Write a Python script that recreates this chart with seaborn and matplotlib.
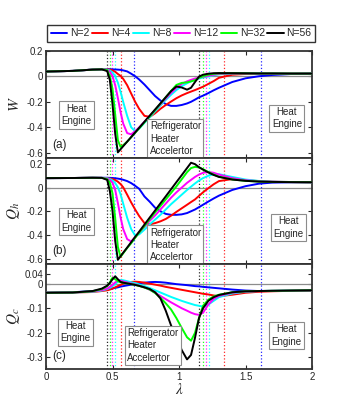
import pandas as pd
import matplotlib
matplotlib.use("Agg")
import matplotlib.pyplot as plt
import seaborn as sns

# lambda grid (shared by all curves)
lam = [0, 0.2, 0.35, 0.42,
       0.46, 0.48, 0.50, 0.52, 0.54,
       0.56, 0.58, 0.61, 0.64, 0.67,
       0.70, 0.74, 0.78, 0.82, 0.86,
       0.90, 0.94, 0.98, 1.02, 1.06,
       1.09, 1.12, 1.15, 1.18, 1.22,
       1.26, 1.30, 1.40, 1.50, 1.60,
       1.70, 1.85, 2.0]

n_labels = ['N=2', 'N=4', 'N=8', 'N=12', 'N=32', 'N=56']
colors = ['#0000ff', '#ff0000', '#00ffff', '#ff00ff', '#00ff00', '#000000']

# W
w_n2 = [0.037, 0.042, 0.052, 0.054,
        0.055, 0.055, 0.054, 0.053, 0.052,
        0.050, 0.046, 0.038, 0.020, 0.000,
        -0.025, -0.065, -0.110, -0.155, -0.190,
        -0.218, -0.232, -0.232, -0.225, -0.213,
        -0.200, -0.183, -0.165, -0.152, -0.132,
        -0.110, -0.090, -0.045, -0.016, 0.000,
        0.010, 0.018, 0.021]
w_n4 = [0.037, 0.042, 0.052, 0.054,
        0.054, 0.052, 0.046, 0.035, 0.018,
        0.003, -0.020, -0.070, -0.135, -0.200,
        -0.255, -0.310, -0.318, -0.290, -0.255,
        -0.225, -0.198, -0.172, -0.150, -0.132,
        -0.120, -0.108, -0.095, -0.082, -0.060,
        -0.038, -0.012, 0.012, 0.018, 0.020,
        0.021, 0.021, 0.021]
w_n8 = [0.037, 0.042, 0.052, 0.054,
        0.052, 0.045, 0.030, 0.000, -0.050,
        -0.120, -0.200, -0.310, -0.400, -0.430,
        -0.410, -0.365, -0.320, -0.275, -0.230,
        -0.185, -0.145, -0.108, -0.078, -0.055,
        -0.040, -0.028, -0.018, -0.010, -0.002,
        0.008, 0.015, 0.022, 0.023, 0.022,
        0.022, 0.021, 0.021]
w_n12 = [0.037, 0.042, 0.052, 0.054,
         0.050, 0.035, 0.000, -0.070, -0.170,
         -0.280, -0.370, -0.445, -0.455, -0.430,
         -0.400, -0.355, -0.310, -0.265, -0.220,
         -0.175, -0.130, -0.090, -0.060, -0.040,
         -0.028, -0.018, -0.010, -0.004, 0.003,
         0.012, 0.018, 0.023, 0.023, 0.022,
         0.022, 0.021, 0.021]
w_n32 = [0.037, 0.042, 0.052, 0.054,
         0.048, 0.000, -0.100, -0.300, -0.500,
         -0.553, -0.540, -0.512, -0.478, -0.443,
         -0.408, -0.360, -0.313, -0.265, -0.215,
         -0.165, -0.115, -0.068, -0.052, -0.048,
         -0.040, -0.030, -0.012, 0.000, 0.012,
         0.019, 0.022, 0.024, 0.023, 0.022,
         0.022, 0.021, 0.021]
w_n56 = [0.037, 0.042, 0.052, 0.054,
         0.040, -0.030, -0.220, -0.450, -0.596,
         -0.572, -0.548, -0.512, -0.476, -0.440,
         -0.404, -0.356, -0.308, -0.260, -0.212,
         -0.164, -0.116, -0.080, -0.088, -0.105,
         -0.090, -0.045, -0.003, 0.012, 0.020,
         0.024, 0.025, 0.024, 0.023, 0.022,
         0.022, 0.021, 0.021]

# Qh
qh_n2 = [0.080, 0.081, 0.083, 0.083,
         0.083, 0.082, 0.081, 0.079, 0.076,
         0.072, 0.066, 0.055, 0.038, 0.015,
         -0.010, -0.075, -0.120, -0.170, -0.200,
         -0.222, -0.230, -0.230, -0.226, -0.215,
         -0.200, -0.185, -0.165, -0.145, -0.118,
         -0.092, -0.068, -0.020, 0.012, 0.033,
         0.042, 0.045, 0.045]
qh_n4 = [0.080, 0.081, 0.083, 0.082,
         0.079, 0.076, 0.072, 0.064, 0.050,
         0.030, 0.003, -0.060, -0.125, -0.185,
         -0.240, -0.300, -0.310, -0.300, -0.285,
         -0.265, -0.237, -0.205, -0.175, -0.145,
         -0.122, -0.100, -0.070, -0.040, -0.005,
         0.028, 0.055, 0.072, 0.063, 0.055,
         0.050, 0.047, 0.045]
qh_n8 = [0.080, 0.081, 0.083, 0.082,
         0.078, 0.073, 0.060, 0.038, 0.003,
         -0.055, -0.135, -0.255, -0.350, -0.405,
         -0.395, -0.355, -0.310, -0.270, -0.230,
         -0.185, -0.140, -0.100, -0.060, -0.020,
         0.008, 0.035, 0.060, 0.080, 0.100,
         0.112, 0.113, 0.090, 0.068, 0.056,
         0.050, 0.047, 0.045]
qh_n12 = [0.080, 0.081, 0.083, 0.082,
          0.076, 0.065, 0.040, -0.020, -0.130,
          -0.250, -0.350, -0.435, -0.455, -0.420,
          -0.380, -0.330, -0.280, -0.235, -0.185,
          -0.135, -0.085, -0.040, 0.000, 0.040,
          0.065, 0.090, 0.110, 0.125, 0.132,
          0.125, 0.110, 0.080, 0.062, 0.053,
          0.049, 0.046, 0.045]
qh_n32 = [0.080, 0.081, 0.083, 0.082,
          0.072, 0.040, -0.050, -0.260, -0.500,
          -0.585, -0.555, -0.510, -0.470, -0.425,
          -0.380, -0.325, -0.265, -0.210, -0.155,
          -0.100, -0.045, 0.010, 0.070, 0.130,
          0.165, 0.175, 0.170, 0.155, 0.132,
          0.110, 0.092, 0.069, 0.057, 0.051,
          0.048, 0.046, 0.045]
qh_n56 = [0.080, 0.081, 0.083, 0.082,
          0.065, -0.030, -0.200, -0.450, -0.610,
          -0.580, -0.550, -0.506, -0.461, -0.416,
          -0.372, -0.312, -0.252, -0.193, -0.133,
          -0.074, -0.014, 0.046, 0.105, 0.165,
          0.210, 0.198, 0.172, 0.152, 0.128,
          0.107, 0.090, 0.068, 0.057, 0.051,
          0.048, 0.046, 0.045]

# Qc
qc_n2 = [-0.037, -0.035, -0.030, -0.026,
         -0.023, -0.021, -0.019, -0.017, -0.015,
         -0.012, -0.010, -0.007, -0.004, -0.001,
         0.002, 0.004, 0.006, 0.007, 0.006,
         0.004, 0.001, -0.002, -0.004, -0.006,
         -0.008, -0.010, -0.011, -0.013, -0.015,
         -0.017, -0.019, -0.024, -0.028, -0.030,
         -0.030, -0.029, -0.028]
qc_n4 = [-0.037, -0.036, -0.034, -0.030,
         -0.027, -0.024, -0.020, -0.015, -0.010,
         -0.005, 0.000, 0.004, 0.007, 0.008,
         0.007, 0.004, 0.000, -0.004, -0.008,
         -0.013, -0.017, -0.021, -0.025, -0.029,
         -0.032, -0.035, -0.038, -0.041, -0.044,
         -0.048, -0.051, -0.045, -0.037, -0.033,
         -0.031, -0.029, -0.028]
qc_n8 = [-0.037, -0.036, -0.033, -0.028,
         -0.022, -0.017, -0.010, -0.002, 0.008,
         0.015, 0.014, 0.010, 0.006, 0.002,
         -0.003, -0.010, -0.018, -0.027, -0.036,
         -0.045, -0.054, -0.062, -0.070, -0.077,
         -0.082, -0.087, -0.090, -0.093, -0.085,
         -0.070, -0.055, -0.040, -0.033, -0.030,
         -0.029, -0.028, -0.027]
qc_n12 = [-0.037, -0.036, -0.032, -0.026,
          -0.020, -0.013, -0.005, 0.005, 0.013,
          0.012, 0.009, 0.005, 0.001, -0.003,
          -0.008, -0.015, -0.025, -0.037, -0.050,
          -0.063, -0.076, -0.088, -0.100, -0.110,
          -0.118, -0.124, -0.127, -0.118, -0.085,
          -0.062, -0.050, -0.037, -0.032, -0.030,
          -0.029, -0.028, -0.027]
qc_n32 = [-0.037, -0.036, -0.031, -0.022,
          -0.010, 0.005, 0.024, 0.018, 0.010,
          0.006, 0.004, 0.001, -0.002, -0.005,
          -0.009, -0.016, -0.024, -0.038, -0.057,
          -0.080, -0.105, -0.140, -0.180, -0.218,
          -0.232, -0.200, -0.140, -0.090, -0.065,
          -0.052, -0.045, -0.035, -0.031, -0.030,
          -0.029, -0.028, -0.027]
qc_n56 = [-0.037, -0.036, -0.030, -0.020,
          -0.008, 0.003, 0.018, 0.030, 0.018,
          0.007, 0.004, 0.001, -0.002, -0.005,
          -0.009, -0.015, -0.022, -0.035, -0.060,
          -0.110, -0.170, -0.215, -0.270, -0.308,
          -0.290, -0.220, -0.140, -0.100, -0.070,
          -0.055, -0.046, -0.035, -0.031, -0.030,
          -0.029, -0.028, -0.027]

# vertical dotted markers (where W changes sign), one pair per N
cross_left = [0.662, 0.565, 0.518, 0.497, 0.481, 0.462]
cross_right = [1.615, 1.335, 1.228, 1.205, 1.178, 1.152]


def long_table(series):
    frames = []
    for lab, vals in zip(n_labels, series):
        frames.append(pd.DataFrame({'lam': lam, 'val': vals, 'N': lab}))
    return pd.concat(frames, ignore_index=True)


panels = [
    dict(df=long_table([w_n2, w_n4, w_n8, w_n12, w_n32, w_n56]), ylabel='$W$',
         ylim=(-0.64, 0.2), yticks=[-0.6, -0.4, -0.2, 0, 0.2], tag='(a)',
         pos=[0.133, 0.6156, 0.769, 0.2610],
         boxes=[(0.115, 0.40), (0.39, 0.18), (0.905, 0.37)]),
    dict(df=long_table([qh_n2, qh_n4, qh_n8, qh_n12, qh_n32, qh_n56]), ylabel='$Q_h$',
         ylim=(-0.645, 0.25), yticks=[-0.6, -0.4, -0.2, 0, 0.2], tag='(b)',
         pos=[0.133, 0.3577, 0.769, 0.2579],
         boxes=[(0.113, 0.40), (0.39, 0.18), (0.91, 0.345)]),
    dict(df=long_table([qc_n2, qc_n4, qc_n8, qc_n12, qc_n32, qc_n56]), ylabel='$Q_c$',
         ylim=(-0.347, 0.08), yticks=[-0.3, -0.2, -0.1, 0, 0.04], tag='(c)',
         pos=[0.133, 0.1022, 0.769, 0.2555],
         boxes=[(0.111, 0.35), (0.305, 0.225), (0.904, 0.32)]),
]

sns.set_style('ticks')
plt.rcParams['font.family'] = ['Liberation Sans', 'DejaVu Sans']
plt.rcParams['mathtext.fontset'] = 'stix'
plt.rcParams['axes.unicode_minus'] = False

fig = plt.figure(figsize=(3.46, 4.11), dpi=100)

box_style = dict(boxstyle='square,pad=0.25', fc='white', ec='0.55', lw=0.8)
handles, labels = None, None

for i, p in enumerate(panels):
    ax = fig.add_axes(p['pos'])
    ax.axhline(0, color='0.55', lw=0.9, zorder=1)
    for c, xl, xr in zip(colors, cross_left, cross_right):
        ax.axvline(xl, color=c, ls=':', lw=0.9, alpha=0.85, zorder=1)
        ax.axvline(xr, color=c, ls=':', lw=0.9, alpha=0.85, zorder=1)
    sns.lineplot(data=p['df'], x='lam', y='val', hue='N', hue_order=n_labels,
                 palette=colors, lw=1.4, ax=ax, legend=(i == 0), zorder=3)
    if i == 0:
        handles, labels = ax.get_legend_handles_labels()
        ax.get_legend().remove()

    ax.set_xlim(0, 2)
    ax.set_ylim(*p['ylim'])
    ax.set_xticks([0, 0.5, 1, 1.5, 2])
    ax.set_yticks(p['yticks'])
    ax.set_yticklabels(['%g' % t for t in p['yticks']])
    if i < 2:
        ax.set_xticklabels([])
        ax.set_xlabel('')
    else:
        ax.set_xticklabels(['0', '0.5', '1', '1.5', '2'])
        ax.set_xlabel(r'$\lambda$', fontsize=11)
        ax.xaxis.set_label_coords(0.5, -0.12)
    ax.set_ylabel(p['ylabel'], fontsize=11)
    ax.yaxis.set_label_coords(-0.09, 0.5)
    ax.tick_params(direction='in', top=True, right=True, length=3, width=0.8,
                   labelsize=7, pad=2, colors='0.15')
    for s in ax.spines.values():
        s.set_linewidth(1.3)
        s.set_color('0.2')

    (lx, ly), (mx, my), (rx, ry) = p['boxes']
    ax.text(lx, ly, 'Heat\nEngine', transform=ax.transAxes, fontsize=7,
            ha='center', va='center', linespacing=1.3, bbox=box_style, zorder=5)
    ax.text(rx, ry, 'Heat\nEngine', transform=ax.transAxes, fontsize=7,
            ha='center', va='center', linespacing=1.3, bbox=box_style, zorder=5)
    ax.text(mx, my, 'Refrigerator\nHeater\nAccelertor', transform=ax.transAxes,
            fontsize=7, ha='left', va='center', linespacing=1.3,
            bbox=box_style, zorder=5)
    ax.text(0.025, 0.12, p['tag'], transform=ax.transAxes, fontsize=8.5,
            ha='left', va='center', zorder=5)

leg = fig.legend(handles, labels, loc='lower left',
                 bbox_to_anchor=(0.136, 0.898, 0.775, 0.051), mode='expand',
                 ncol=6, frameon=True, fancybox=False, edgecolor='k', fontsize=7.5,
                 handlelength=1.6, handletextpad=0.25, columnspacing=0.4,
                 borderaxespad=0, borderpad=0.35)
leg.get_frame().set_linewidth(1.0)

fig.savefig('out.png', dpi=100)
